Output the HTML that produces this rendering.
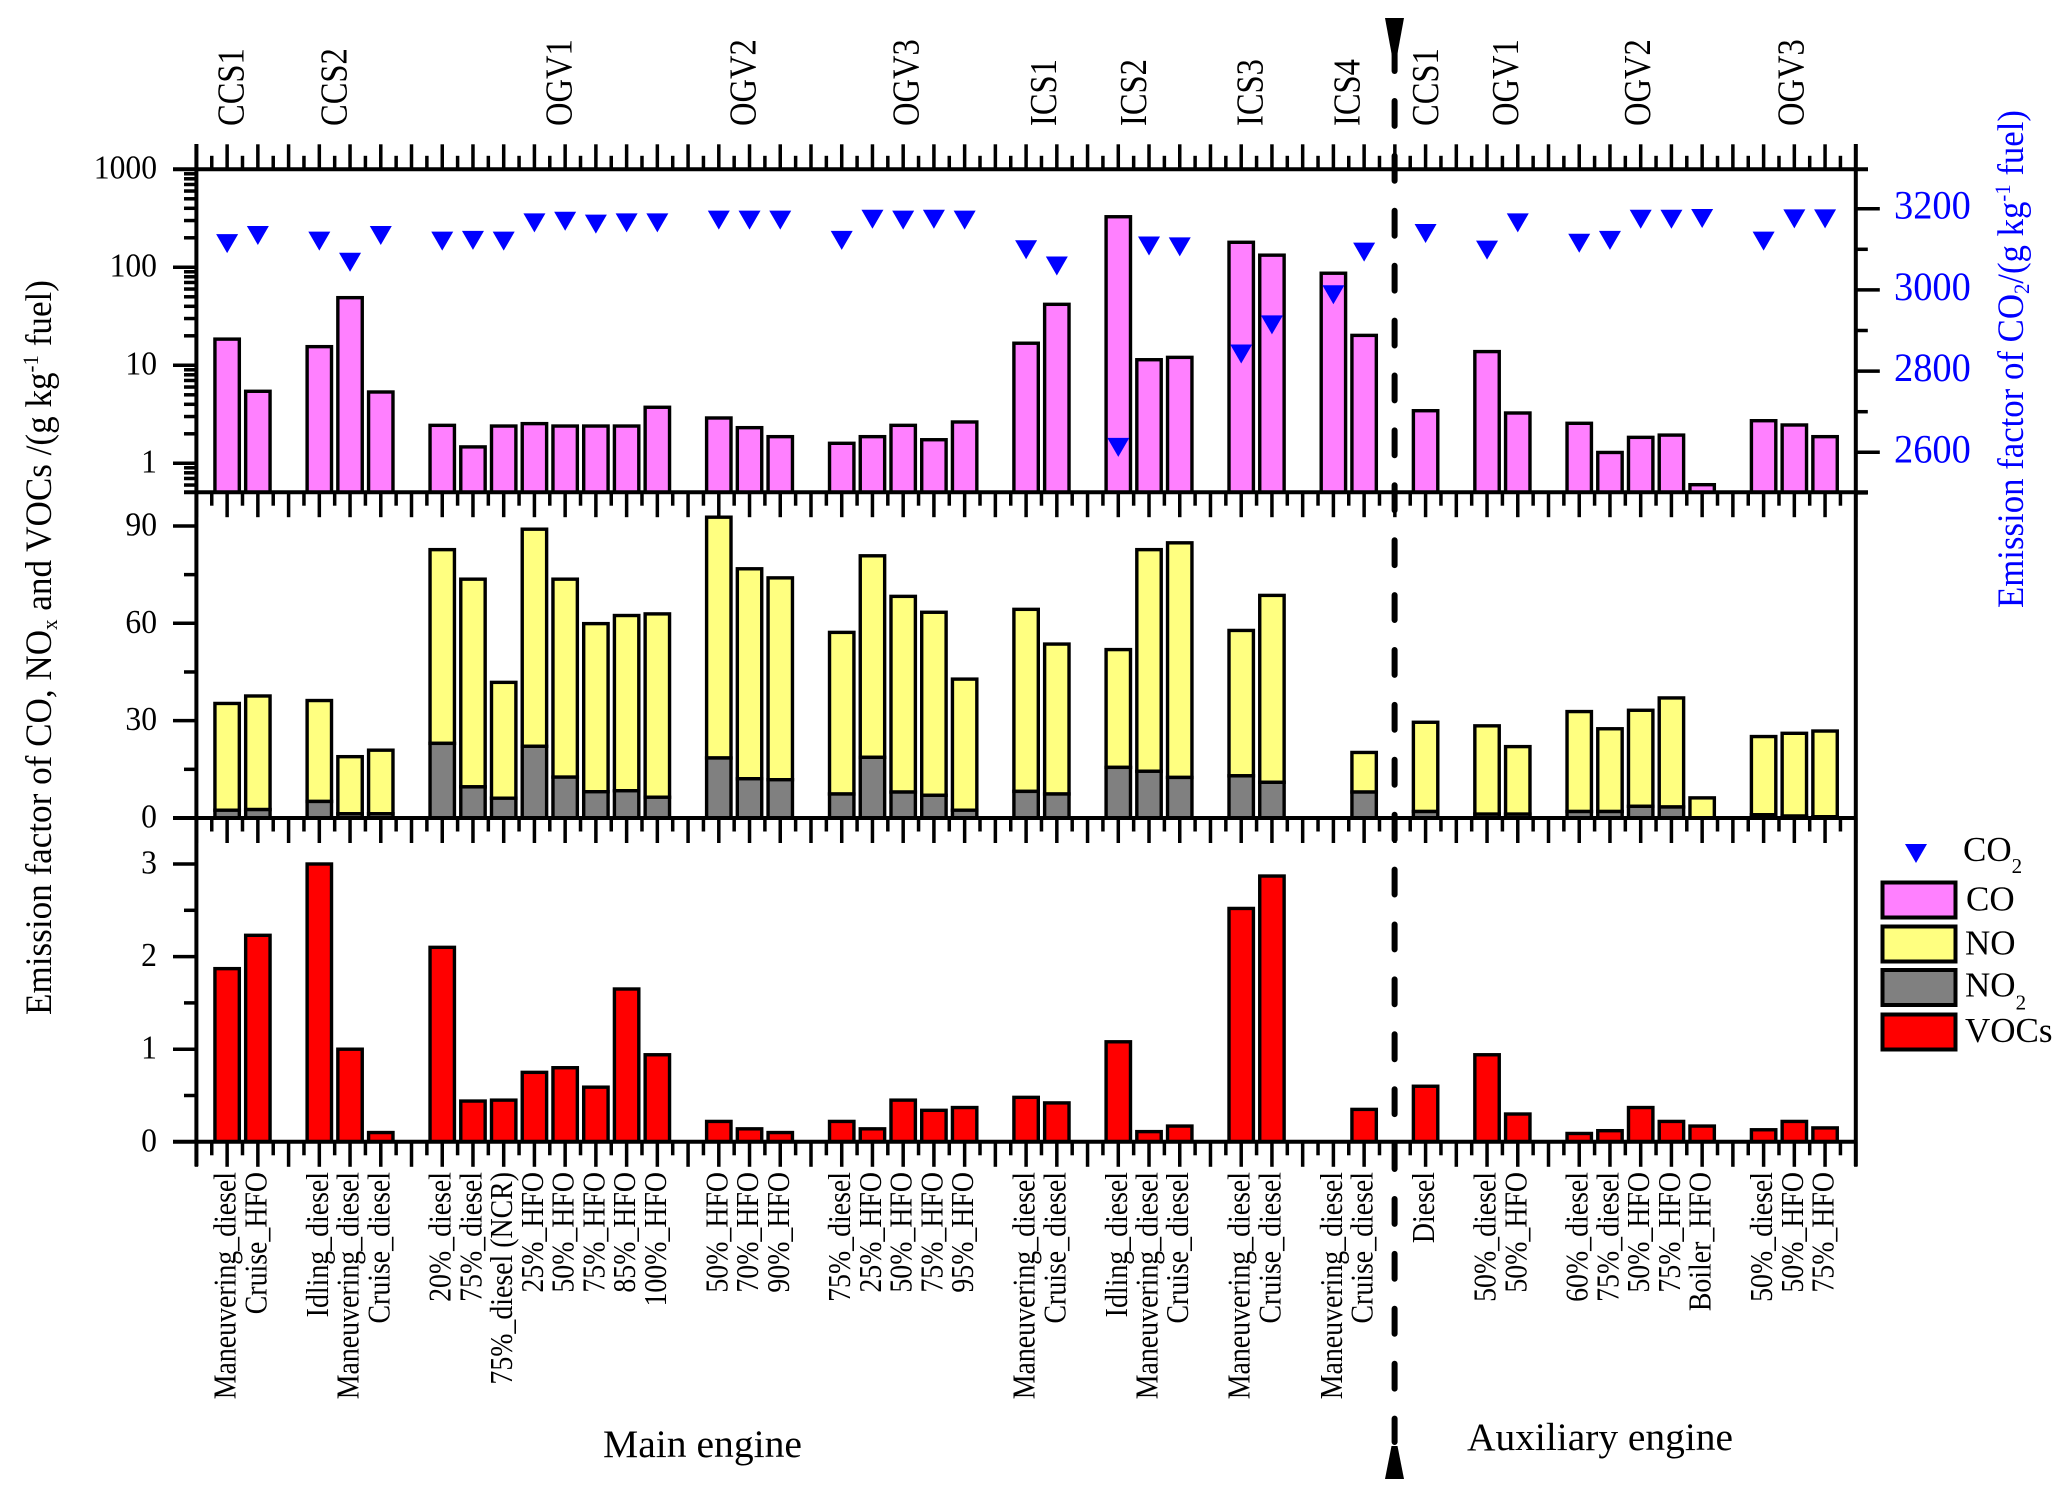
<!DOCTYPE html>
<html>
<head>
<meta charset="utf-8">
<title>Emission factors chart</title>
<style>
html,body{margin:0;padding:0;background:#fff;}
svg{display:block;}
text{font-family:"Liberation Serif",serif;fill:#000;}
</style>
</head>
<body>
<svg id="chart" xmlns="http://www.w3.org/2000/svg" width="2067" height="1497" viewBox="0 0 2067 1497">
  <rect x="0" y="0" width="2067" height="1497" fill="#ffffff"/>
  <g id="bars"></g>
  <g id="axes"></g>
  <g id="markers"></g>
  <g id="labels"></g>

  <text transform="translate(51,1015) rotate(-90)" font-size="37" textLength="735" lengthAdjust="spacingAndGlyphs">Emission factor of CO, NO<tspan font-size="22" dy="6">x</tspan><tspan dy="-6"> and VOCs /(g kg</tspan><tspan font-size="22" dy="-13">-1</tspan><tspan dy="13"> fuel)</tspan></text>
  <text transform="translate(2023,608) rotate(-90)" font-size="37" textLength="498" lengthAdjust="spacingAndGlyphs" style="fill:#0000ff">Emission factor of CO<tspan font-size="22" dy="6">2</tspan><tspan dy="-6">/(g kg</tspan><tspan font-size="22" dy="-13">-1</tspan><tspan dy="13"> fuel)</tspan></text>

  <text x="603" y="1457" font-size="39" textLength="199" lengthAdjust="spacingAndGlyphs">Main engine</text>
  <text x="1467" y="1450" font-size="39" textLength="266" lengthAdjust="spacingAndGlyphs">Auxiliary engine</text>

  <g>
    <line x1="1394.6" y1="101" x2="1394.6" y2="1442" stroke="#000" stroke-width="6" stroke-linecap="round" stroke-dasharray="24.9 30"/>
    <line x1="1394.6" y1="40" x2="1394.6" y2="71" stroke="#000" stroke-width="6" stroke-linecap="round"/>
    <polygon points="1385,18 1404,18 1397,56 1392,56" fill="#000"/>
    <polygon points="1391.5,1446 1397.5,1446 1404,1479 1385,1479" fill="#000"/>
  </g>

  <g>
    <polygon points="1905,844 1927,844 1916,863" fill="#0000ff"/>
    <text x="1963" y="861" font-size="35">CO<tspan font-size="21" dy="12">2</tspan></text>
    <rect x="1882.5" y="882.5" width="73" height="35" fill="#ff80ff" stroke="#000" stroke-width="4"/>
    <text x="1966" y="910.5" font-size="35">CO</text>
    <rect x="1882.5" y="926.5" width="73" height="35" fill="#ffff80" stroke="#000" stroke-width="4"/>
    <text x="1965" y="954.5" font-size="35">NO</text>
    <rect x="1882.5" y="970" width="73" height="35" fill="#808080" stroke="#000" stroke-width="4"/>
    <text x="1965" y="996.5" font-size="35">NO<tspan font-size="21" dy="13">2</tspan></text>
    <rect x="1882.5" y="1014.5" width="73" height="35" fill="#ff0000" stroke="#000" stroke-width="4"/>
    <text x="1965" y="1042" font-size="35">VOCs</text>
  </g>
</svg>

<script>
// x positions in category-slot units (slot 0 = left axis, slot 54 = right axis)
const slots = [1,2,4,5,6,8,9,10,11,12,13,14,15,17,18,19,21,22,23,24,25,27,28,30,31,32,34,35,37,38,40,42,43,45,46,47,48,49,51,52,53];
const categories = ["Maneuvering_diesel","Cruise_HFO","Idling_diesel","Maneuvering_diesel","Cruise_diesel","20%_diesel","75%_diesel","75%_diesel (NCR)","25%_HFO","50%_HFO","75%_HFO","85%_HFO","100%_HFO","50%_HFO","70%_HFO","90%_HFO","75%_diesel","25%_HFO","50%_HFO","75%_HFO","95%_HFO","Maneuvering_diesel","Cruise_diesel","Idling_diesel","Maneuvering_diesel","Cruise_diesel","Maneuvering_diesel","Cruise_diesel","Maneuvering_diesel","Cruise_diesel","Diesel","50%_diesel","50%_HFO","60%_diesel","75%_diesel","50%_HFO","75%_HFO","Boiler_HFO","50%_diesel","50%_HFO","75%_HFO"];
const coValues = [18.5,5.43,15.5,49,5.34,2.44,1.47,2.4,2.54,2.4,2.4,2.4,3.73,2.9,2.31,1.87,1.6,1.87,2.44,1.74,2.64,16.8,41.9,328,11.4,12.05,180,133,87,20.2,3.44,13.8,3.26,2.56,1.29,1.84,1.94,0.605,2.72,2.46,1.87];
const co2Values = [3114,3134,3120,3068,3134,3120,3122,3120,3165,3169,3162,3165,3165,3172,3172,3172,3122,3174,3172,3174,3172,3099,3059,2612,3108,3106,2842,2914,2988,3093,3139,3098,3165,3115,3122,3174,3174,3176,3120,3175,3175];
const no2Values = [2.4,2.6,5.1,1.3,1.3,23,9.6,6.1,22.1,12.6,8.1,8.4,6.4,18.5,12.1,11.8,7.4,18.7,8,7,2.4,8.2,7.4,15.6,14.4,12.5,13,11,0,8,2,1.2,1.2,2,2,3.6,3.4,0,1,0.6,0.4];
const noValues = [32.9,35,31.1,17.6,19.6,59.7,64,35.7,66.9,61,51.8,54,56.5,74.2,64.7,62.2,49.8,62.1,60.3,56.4,40.4,56.1,46.2,36.3,68.3,72.3,44.8,57.6,0,12.2,27.5,27.2,20.8,30.8,25.5,29.6,33.6,6.2,24.1,25.5,26.4];
const vocValues = [1.87,2.23,3,1,0.1,2.1,0.44,0.45,0.75,0.8,0.59,1.65,0.94,0.22,0.14,0.1,0.22,0.14,0.45,0.34,0.37,0.48,0.42,1.08,0.11,0.17,2.52,2.87,0,0.35,0.6,0.94,0.3,0.09,0.12,0.37,0.22,0.17,0.13,0.22,0.15];
const groupNames = ["CCS1","CCS2","OGV1","OGV2","OGV3","ICS1","ICS2","ICS3","ICS4","CCS1","OGV1","OGV2","OGV3"];
const groupSlots = [1.53,4.88,12.2,18.2,23.5,27.97,30.9,34.7,37.85,40.4,43,47.3,52.3];
const coTicks = [1,10,100,1000];
const noxTicks = [0,30,60,90];
const noxMinorTicks = [15,45,75];
const vocTicks = [0,1,2,3];
const vocMinorTicks = [0.5,1.5,2.5];
const co2Ticks = [2600,2800,3000,3200];
const co2MinorTicks = [2500,2700,2900,3100];

const NS = 'http://www.w3.org/2000/svg';
const AXIS_L = 196.4, AXIS_R = 1855.8, TOP = 169.3, P1_BASE = 492.2, P2_BASE = 818, P3_BASE = 1141.8;
const barsG = document.getElementById('bars');
const axesG = document.getElementById('axes');
const markersG = document.getElementById('markers');
const labelsG = document.getElementById('labels');

const xScale = s => AXIS_L + s * (AXIS_R - AXIS_L) / 54;
const yLog = v => 463.3 - 98 * Math.log10(v);
const yNox = v => P2_BASE - 3.245 * v;
const yVoc = v => P3_BASE - 92.6 * v;
const yCo2 = v => 452.3 - (v - 2600) * 0.406;

function drawLine(parent, name, x1, y1, x2, y2, w) {
  const el = document.createElementNS(NS, 'line');
  
  
  el.setAttribute('x1', x1);
  el.setAttribute('y1', y1);
  el.setAttribute('x2', x2);
  el.setAttribute('y2', y2);
  el.setAttribute('stroke', '#000');
  el.setAttribute('stroke-width', w);
  parent.appendChild(el);
}
function drawBar(name, slot, yTop, yBottom, fill) {
  const el = document.createElementNS(NS, 'rect');
  
  
  el.setAttribute('x', xScale(slot) - 12.2);
  el.setAttribute('y', yTop);
  el.setAttribute('width', 24.4);
  el.setAttribute('height', Math.max(0, yBottom - yTop));
  el.setAttribute('fill', fill);
  el.setAttribute('stroke', '#000');
  el.setAttribute('stroke-width', 3.4);
  barsG.appendChild(el);
}
function drawText(name, str, x, y, size, anchor, rotate, sx, color) {
  const el = document.createElementNS(NS, 'text');
  
  
  el.setAttribute('font-size', size);
  el.setAttribute('text-anchor', anchor);
  el.setAttribute('transform', 'translate(' + x + ',' + y + ')' + (rotate ? ' rotate(-90)' : '') + ' scale(' + sx + ',1)');
  if (color) el.style.fill = color;
  el.textContent = str;
  labelsG.appendChild(el);
}

// bars
slots.forEach((s, i) => {
  drawBar('co-bar-' + s, s, yLog(coValues[i]), P1_BASE, '#ff80ff');
  if (no2Values[i] + noValues[i] > 0) {
    drawBar('no-bar-' + s, s, yNox(no2Values[i] + noValues[i]), yNox(no2Values[i]), '#ffff80');
  }
  if (no2Values[i] > 0) {
    drawBar('no2-bar-' + s, s, yNox(no2Values[i]), P2_BASE, '#808080');
  }
  if (vocValues[i] > 0) {
    drawBar('vocs-bar-' + s, s, yVoc(vocValues[i]), P3_BASE, '#ff0000');
  }
});

// CO2 markers
slots.forEach((s, i) => {
  const cx = xScale(s), cy = yCo2(co2Values[i]);
  const el = document.createElementNS(NS, 'polygon');
  
  
  el.setAttribute('points', (cx - 11) + ',' + (cy - 9.5) + ' ' + (cx + 11) + ',' + (cy - 9.5) + ' ' + cx + ',' + (cy + 9.5));
  el.setAttribute('fill', '#0000ff');
  markersG.appendChild(el);
});

// vertical and horizontal axis lines
drawLine(axesG, 'left-axis-line', AXIS_L, 144, AXIS_L, 1166, 4);
drawLine(axesG, 'right-axis-line', AXIS_R, 144, AXIS_R, 1166, 4);
drawLine(axesG, 'top-axis-line', 173, TOP, 1868, TOP, 4);
drawLine(axesG, 'co-panel-baseline', 184, P1_BASE, 1868, P1_BASE, 4);
drawLine(axesG, 'nox-panel-baseline', 173, P2_BASE, AXIS_R, P2_BASE, 4);
drawLine(axesG, 'vocs-panel-baseline', 173, P3_BASE, AXIS_R, P3_BASE, 4);

// x ticks on the four horizontal axes
[[TOP, -1, 'top'], [P1_BASE, 1, 'co'], [P2_BASE, 1, 'nox'], [P3_BASE, 1, 'vocs']].forEach(a => {
  for (let s = 0; s <= 54; s += 0.5) {
    const major = Number.isInteger(s);
    drawLine(axesG, a[2] + '-x-tick', xScale(s), a[0], xScale(s), a[0] + a[1] * (major ? 25 : 13.5), 3.5);
  }
});

// CO log axis
coTicks.forEach(v => {
  drawLine(axesG, 'co-y-tick', 173, yLog(v), AXIS_L, yLog(v), 3.5);
  drawText('co-y-tick-label', String(v), 157, yLog(v) + 9, 34, 'end', false, 0.93);
});
[0.1, 1, 10, 100].forEach(dec => {
  for (let m = 2; m <= 9; m++) {
    const y = yLog(dec * m);
    if (y <= P1_BASE && y >= TOP) drawLine(axesG, 'co-y-minor-tick', 184, y, AXIS_L, y, 3.5);
  }
});

// NOx axis
noxTicks.forEach(v => {
  drawLine(axesG, 'nox-y-tick', 173, yNox(v), AXIS_L, yNox(v), 3.5);
  drawText('nox-y-tick-label', String(v), 157, yNox(v) + 9.5, 34, 'end', false, 0.93);
});
noxMinorTicks.forEach(v => {
  drawLine(axesG, 'nox-y-minor-tick', 184, yNox(v), AXIS_L, yNox(v), 3.5);
});

// VOCs axis
vocTicks.forEach(v => {
  drawLine(axesG, 'vocs-y-tick', 173, yVoc(v), AXIS_L, yVoc(v), 3.5);
  drawText('vocs-y-tick-label', String(v), 157, yVoc(v) + 9.5, 34, 'end', false, 0.93);
});
vocMinorTicks.forEach(v => {
  drawLine(axesG, 'vocs-y-minor-tick', 184, yVoc(v), AXIS_L, yVoc(v), 3.5);
});

// CO2 right axis
co2Ticks.forEach(v => {
  drawLine(axesG, 'co2-y-tick', AXIS_R, yCo2(v), AXIS_R + 24, yCo2(v), 3.5);
  drawText('co2-y-tick-label', String(v), 1894, yCo2(v) + 10, 40, 'start', false, 0.96, '#0000ff');
});
co2MinorTicks.forEach(v => {
  drawLine(axesG, 'co2-y-minor-tick', AXIS_R, yCo2(v), AXIS_R + 12, yCo2(v), 3.5);
});

// bottom category labels
slots.forEach((s, i) => {
  drawText('category-label-' + s, categories[i], xScale(s) + 8.5, 1172, 32, 'end', true, 0.87);
});

// top group labels
groupNames.forEach((g, i) => {
  drawText('group-label-' + g.toLowerCase() + '-' + i, g, xScale(groupSlots[i]), 126, 38, 'start', true, 0.857);
});
</script>
</body>
</html>
